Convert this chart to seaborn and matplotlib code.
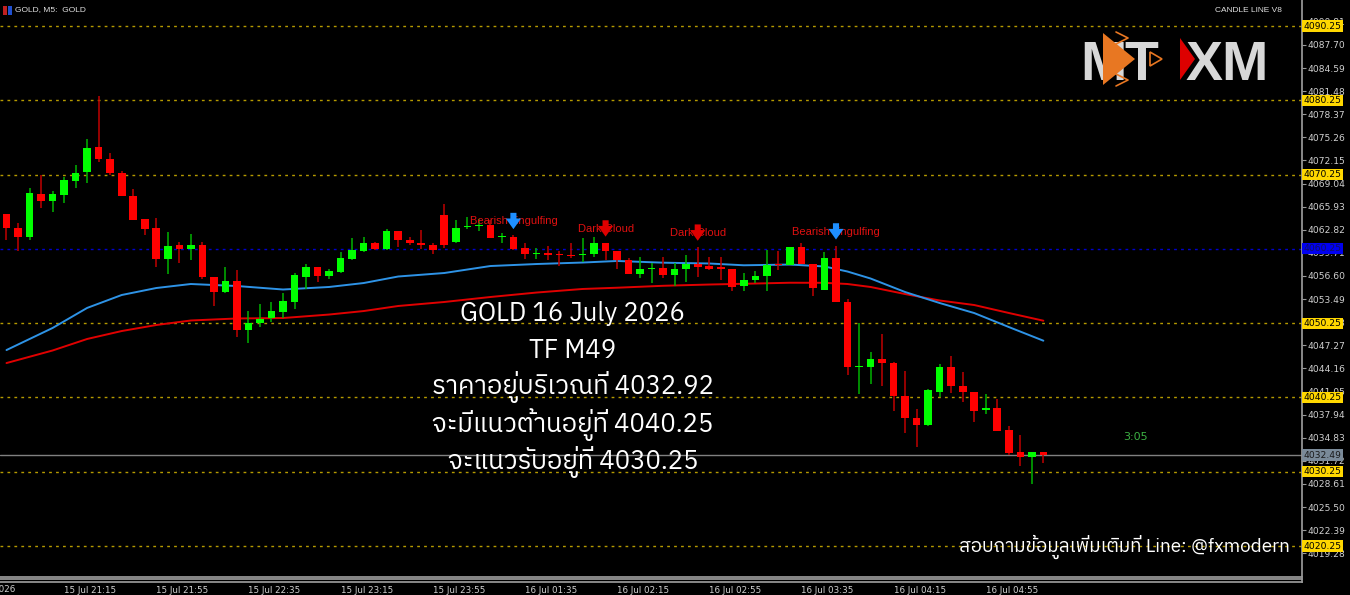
import matplotlib
matplotlib.use("Agg")
import numpy as np
import pandas as pd
import seaborn as sns
import matplotlib.pyplot as plt
import matplotlib.transforms as mtrans
from matplotlib import font_manager as fm
from matplotlib.ft2font import FT2Font
from matplotlib.patches import Polygon, Rectangle

# ---- data (GOLD M5) ----
opens = [4064.94, 4063.10, 4061.90, 4067.70, 4066.70, 4067.50, 4069.40, 4070.55, 4073.90, 4072.30,
         4070.46, 4067.37, 4064.27, 4063.06, 4058.84, 4060.73, 4060.27, 4060.73, 4056.46, 4054.45,
         4055.92, 4049.33, 4050.23, 4050.94, 4051.74, 4053.10, 4056.50, 4057.80, 4056.60, 4057.18,
         4058.84, 4059.96, 4061.00, 4060.23, 4062.66, 4061.40, 4061.10, 4060.82, 4064.80, 4061.20,
         4063.20, 4063.30, 4063.45, 4061.85, 4061.90, 4060.40, 4059.60, 4059.73, 4059.45, 4059.40,
         4059.40, 4059.56, 4061.10, 4060.00, 4058.75, 4056.87, 4057.50, 4057.74, 4056.70, 4057.50,
         4058.20, 4057.98, 4057.85, 4057.60, 4055.25, 4056.00, 4056.60, 4058.20, 4058.08, 4060.50,
         4058.17, 4054.70, 4059.06, 4053.13, 4044.30, 4044.40, 4045.40, 4044.93, 4040.48, 4037.48,
         4036.54, 4041.00, 4044.30, 4041.79, 4041.03, 4038.56, 4038.83, 4035.86, 4032.86, 4032.27,
         4032.86]
highs = [4065.00, 4063.70, 4068.50, 4070.20, 4068.10, 4069.90, 4071.60, 4075.04, 4080.83, 4073.10,
         4070.70, 4068.30, 4064.30, 4064.40, 4062.50, 4061.20, 4062.30, 4061.13, 4056.46, 4057.80,
         4057.36, 4051.90, 4052.83, 4053.10, 4054.27, 4057.00, 4058.20, 4057.80, 4057.50, 4059.87,
         4061.67, 4061.86, 4061.20, 4062.88, 4062.66, 4061.80, 4062.80, 4061.08, 4066.24, 4064.10,
         4064.60, 4064.30, 4064.10, 4062.40, 4062.10, 4061.10, 4060.30, 4060.60, 4059.90, 4061.10,
         4061.67, 4061.90, 4061.10, 4060.00, 4058.98, 4059.20, 4058.40, 4059.20, 4058.30, 4059.40,
         4060.54, 4059.20, 4059.20, 4057.60, 4056.96, 4057.27, 4060.10, 4059.96, 4060.50, 4061.00,
         4058.17, 4059.80, 4060.70, 4053.45, 4050.23, 4046.40, 4048.75, 4045.07, 4043.80, 4038.65,
         4041.34, 4044.75, 4045.83, 4043.67, 4041.03, 4040.71, 4040.00, 4036.45, 4035.20, 4032.94,
         4032.90]
lows = [4061.44, 4060.00, 4061.40, 4065.70, 4065.25, 4066.40, 4068.50, 4069.16, 4071.98, 4070.20,
        4067.30, 4064.10, 4062.10, 4057.80, 4056.90, 4058.40, 4058.70, 4056.20, 4052.60, 4054.30,
        4048.40, 4047.60, 4049.77, 4050.35, 4050.94, 4052.20, 4054.90, 4055.80, 4056.20, 4056.96,
        4058.70, 4059.80, 4060.10, 4060.10, 4060.54, 4060.80, 4060.23, 4059.50, 4060.40, 4061.00,
        4062.90, 4062.60, 4061.75, 4061.10, 4060.10, 4058.85, 4058.85, 4058.70, 4057.90, 4058.98,
        4058.53, 4059.20, 4058.70, 4057.60, 4056.87, 4056.30, 4055.70, 4056.30, 4055.30, 4055.85,
        4056.40, 4057.40, 4056.05, 4054.60, 4054.58, 4055.60, 4054.58, 4057.40, 4058.08, 4058.17,
        4053.90, 4054.70, 4053.13, 4043.27, 4040.70, 4042.06, 4041.80, 4038.47, 4035.50, 4033.60,
        4036.40, 4040.27, 4040.90, 4039.68, 4036.90, 4038.00, 4035.77, 4032.50, 4031.00, 4028.60,
        4031.40]
closes = [4063.02, 4061.90, 4067.80, 4066.70, 4067.60, 4069.50, 4070.50, 4073.87, 4072.30, 4070.46,
          4067.30, 4064.13, 4062.90, 4058.84, 4060.70, 4060.27, 4060.73, 4056.46, 4054.40, 4055.92,
          4049.33, 4050.30, 4050.77, 4051.84, 4053.19, 4056.73, 4057.80, 4056.60, 4057.27, 4059.06,
          4060.05, 4061.00, 4060.20, 4062.66, 4061.40, 4061.00, 4060.77, 4060.10, 4060.77, 4063.10,
          4063.25, 4063.40, 4061.75, 4061.90, 4060.20, 4059.50, 4059.73, 4059.40, 4059.40, 4059.30,
          4059.56, 4061.10, 4060.00, 4058.75, 4056.87, 4057.54, 4057.74, 4056.70, 4057.54, 4058.20,
          4057.77, 4057.60, 4057.50, 4055.16, 4056.05, 4056.60, 4058.08, 4058.08, 4060.50, 4058.17,
          4054.94, 4058.97, 4053.13, 4044.30, 4044.48, 4045.40, 4044.90, 4040.44, 4037.44, 4036.54,
          4041.25, 4044.30, 4041.80, 4041.03, 4038.47, 4038.80, 4035.77, 4032.80, 4032.27, 4032.94,
          4032.49]

ma_idx = [0, 4, 7, 10, 13, 16, 20, 24, 28, 31, 34, 38, 42, 46, 50, 53, 57, 61, 64, 68, 71, 73, 75,
          78, 81, 84, 87, 90]
ma_fast = [4046.63, 4049.60, 4052.30, 4054.04, 4054.98, 4055.52, 4055.25, 4054.78, 4055.12, 4055.65,
           4056.53, 4057.00, 4057.94, 4058.21, 4058.41, 4058.62, 4058.39, 4058.28, 4058.04, 4058.14,
           4057.88, 4057.20, 4056.26, 4054.44, 4052.96, 4051.61, 4049.73, 4047.89]
ma_slow = [4044.88, 4046.57, 4048.12, 4049.19, 4050.00, 4050.61, 4050.88, 4050.94, 4051.41, 4051.88,
           4052.56, 4053.10, 4053.77, 4054.37, 4054.85, 4055.02, 4055.28, 4055.45, 4055.55, 4055.69,
           4055.68, 4055.52, 4055.12, 4054.17, 4053.30, 4052.69, 4051.62, 4050.58]

yellow_levels = [4090.25, 4080.25, 4070.25, 4050.25, 4040.25, 4030.25, 4020.25]
blue_level = 4060.25
last_price = 4032.49
axis_ticks = [4019.28, 4022.39, 4025.50, 4028.61, 4031.72, 4034.83, 4037.94, 4041.05, 4044.16,
              4047.27, 4050.38, 4053.49, 4056.60, 4059.71, 4062.82, 4065.93, 4069.04, 4072.15,
              4075.26, 4078.37, 4081.48, 4084.59, 4087.70, 4090.81]

time_idx = [5, 13, 21, 29, 37, 45, 53, 61, 69, 77, 85]
time_labels = ["15 Jul 21:15", "15 Jul 21:55", "15 Jul 22:35", "15 Jul 23:15", "15 Jul 23:55",
               "16 Jul 01:35", "16 Jul 02:15", "16 Jul 02:55", "16 Jul 03:35", "16 Jul 04:15",
               "16 Jul 04:55"]

signal_idx = [44, 52, 60, 72]
signal_names = ["Bearish Engulfing", "Dark Cloud", "Dark Cloud", "Bearish Engulfing"]
signal_arrow = ["#1E8FFF", "#E00000", "#E00000", "#1E8FFF"]

info_lines = ["GOLD 16 July 2026", "TF M49", "ราคาอยู่บริเวณที่ 4032.92",
              "จะมีแนวต้านอยู่ที่ 4040.25", "จะแนวรับอยู่ที่ 4030.25"]
contact = "สอบถามข้อมูลเพิ่มเติมที่ Line: @fxmodern"


def find_thai_family():
    found = []
    for f in fm.fontManager.ttflist:
        try:
            cmap = FT2Font(f.fname).get_charmap()
        except Exception:
            continue
        if 0x0E2D in cmap and 0x0E35 in cmap:
            found.append(f.name)
    if not found:
        return None
    found.sort(key=lambda n: (("Thai" not in n), ("Looped" in n), n))
    return found[0]


sns.set_theme(style="dark", rc={"axes.facecolor": "black", "figure.facecolor": "black",
                               "axes.edgecolor": "#9a9a9a", "text.color": "white"})
thai = find_thai_family()
plt.rcParams["font.family"] = ["DejaVu Sans"]
thai_fam = [thai, "DejaVu Sans"] if thai else ["DejaVu Sans"]

W, H = 1350, 595
df = pd.DataFrame({"o": opens, "h": highs, "l": lows, "c": closes})
df["i"] = np.arange(len(df))
df["up"] = df["c"] >= df["o"]
df["bot"] = df[["o", "c"]].min(axis=1)
df["body"] = (df["c"] - df["o"]).abs().clip(lower=0.15)

fig = plt.figure(figsize=(13.5, 5.95), dpi=100)
ax = fig.add_axes([0, 18 / H, 1302 / W, 577 / H])
ax.set_facecolor("black")

# levels
for lv in yellow_levels:
    ax.axhline(lv, color="#B59A00", lw=1.0, ls=(0, (2, 3)), zorder=1)
ax.axhline(blue_level, color="#0000D0", lw=1.0, ls=(0, (2, 3)), zorder=1)
ax.axhline(last_price, color="#808080", lw=1.0, zorder=1)

# moving averages
sns.lineplot(x=ma_idx, y=ma_slow, ax=ax, color="#E00000", lw=1.4, zorder=1.5)
sns.lineplot(x=ma_idx, y=ma_fast, ax=ax, color="#2E93E6", lw=1.4, zorder=1.6)

# candles
wick_cols = np.where(df["up"], "#00B400", "#C00000")
body_cols = np.where(df["up"], "#00FF00", "#FF0000")
ax.vlines(df["i"], df["l"], df["h"], colors=wick_cols, lw=1.1, zorder=2)
ax.bar(df["i"], df["body"], bottom=df["bot"], width=0.66, color=body_cols, lw=0, zorder=3)

# pattern labels
for i, name, col in zip(signal_idx, signal_names, signal_arrow):
    hi = highs[i]
    ax.text(i, hi + 1.85, name, color="#E01010", fontsize=8, family="Liberation Sans",
            ha="center", va="center", zorder=4)
    ax.annotate("", xy=(i, hi + 0.8), xytext=(i, hi + 3.0), zorder=5,
                arrowprops=dict(arrowstyle="simple,head_width=1.0,head_length=0.7,tail_width=0.4",
                                color=col, mutation_scale=11, lw=0, shrinkA=0, shrinkB=0))

ax.set_xlim(-0.564, 112.45)
ax.set_ylim(4016.08, 4093.75)
ax.set_xlabel("")
ax.set_ylabel("")
ax.grid(False)
ax.yaxis.tick_right()
ax.set_yticks(axis_ticks)
ax.set_yticklabels([f"{v:.2f}" for v in axis_ticks])
ax.tick_params(axis="y", direction="out", length=3, width=0.8, color="#9a9a9a",
               labelsize=6.6, labelcolor="#D0D0D0", pad=1)
ax.tick_params(axis="x", bottom=False, labelbottom=False)
for s in ["top", "left"]:
    ax.spines[s].set_visible(False)
ax.spines["right"].set_color("#9a9a9a")
ax.spines["bottom"].set_color("#9a9a9a")

# price boxes on the axis
bt = mtrans.blended_transform_factory(ax.transAxes, ax.transData)
for lv in yellow_levels:
    ax.text(1.0012, lv, f"{lv:.2f}", transform=bt, fontsize=6.6, color="black", va="center",
            ha="left", clip_on=False, zorder=6,
            bbox=dict(boxstyle="square,pad=0.12", fc="#FFD700", ec="none"))
ax.text(1.0012, blue_level, f"{blue_level:.2f}", transform=bt, fontsize=6.6, color="#101060",
        va="center", ha="left", clip_on=False, zorder=6,
        bbox=dict(boxstyle="square,pad=0.12", fc="#0000F0", ec="none"))
ax.text(1.0012, last_price, f"{last_price:.2f}", transform=bt, fontsize=6.6, color="#1a1a1a",
        va="center", ha="left", clip_on=False, zorder=6,
        bbox=dict(boxstyle="square,pad=0.12", fc="#7A8A99", ec="none"))

# time strip
ax_t = fig.add_axes([0, 13 / H, 1302 / W, 3 / H])
ax_t.set_facecolor("black")
ax_t.set_xlim(-0.564, 112.45)
ax_t.set_yticks([])
ax_t.set_xticks(time_idx)
ax_t.set_xticklabels(time_labels, ha="left")
ax_t.tick_params(axis="x", direction="out", length=2.5, width=0.8, color="#9a9a9a",
                 labelsize=6.3, labelcolor="#D0D0D0", pad=0.5)
for s in ax_t.spines.values():
    s.set_color("#9a9a9a")
ax_t.spines["left"].set_visible(False)
ax_t.grid(False)


def px(x, y):
    return x / W, 1 - y / H


fig.text(*px(15, 589), "15 Jul 2026", fontsize=6.3, color="#D0D0D0", ha="right", va="center")
fig.patches.append(Rectangle(px(3, 15), 4 / W, 9 / H, transform=fig.transFigure, fc="#C02020",
                             ec="none"))
fig.patches.append(Rectangle(px(8, 15), 4 / W, 9 / H, transform=fig.transFigure, fc="#2050D0",
                             ec="none"))
fig.text(*px(15, 10), "GOLD, M5:  GOLD", fontsize=6, color="#E0E0E0", va="center",
         family="Liberation Sans")
fig.text(*px(1282, 10), "CANDLE LINE V8", fontsize=6, color="#E0E0E0", va="center", ha="right",
         family="Liberation Sans")
fig.text(*px(1135, 437), "3:05", fontsize=8, color="#3CB043", va="center", ha="center")

# centre information block
for k, line in enumerate(info_lines):
    fig.text(*px(573, 313 + 37.2 * k), line, fontsize=18.5, color="white", ha="center",
             va="center", family=thai_fam)
fig.text(*px(1290, 547), contact, fontsize=13.6, color="white", ha="right", va="center",
         family=thai_fam)

# logo
lax = fig.add_axes([1075 / W, 1 - 95 / H, 215 / W, 70 / H])
lax.set_xlim(1075, 1290)
lax.set_ylim(95, 25)
lax.axis("off")
lax.text(1080, 80, "M", fontsize=40, fontweight="bold", color="#D8D8D8", family="Liberation Sans",
         va="baseline", zorder=2)
lax.text(1124, 80, "T", fontsize=40, fontweight="bold", color="#D8D8D8", family="Liberation Sans",
         va="baseline", zorder=2)
lax.add_patch(Polygon([(1103, 33), (1103, 85), (1135, 59)], closed=True, fc="#E87722", ec="none",
                      zorder=4))
lax.add_patch(Polygon([(1150, 52), (1150, 66), (1162, 59)], closed=True, fc="none", ec="#E87722",
                      lw=1.2, zorder=4))
lax.plot([1116, 1128, 1116], [32, 38, 44], color="#E87722", lw=1.2, zorder=4)
lax.plot([1116, 1128, 1116], [74, 80, 86], color="#E87722", lw=1.2, zorder=4)
lax.add_patch(Polygon([(1180, 38), (1180, 80), (1195, 59)], closed=True, fc="#DD0000", ec="none",
                      zorder=4))
lax.text(1186, 80, "XM", fontsize=40, fontweight="bold", color="#D8D8D8", family="Liberation Sans",
         va="baseline", zorder=2)

fig.savefig("out.png", dpi=100, facecolor="black")
